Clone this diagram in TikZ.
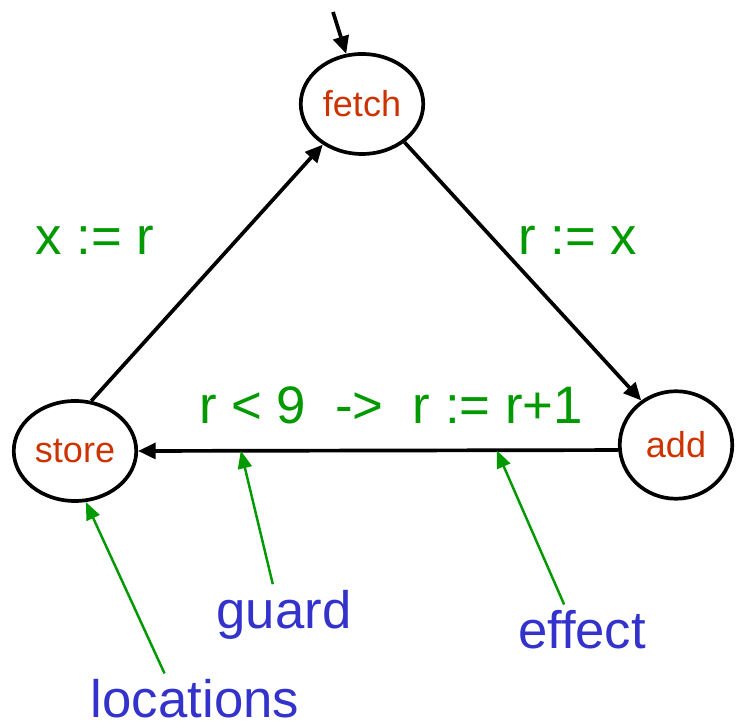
\documentclass[tikz,border=0pt]{standalone}
\usepackage{fontspec}
\setmainfont{Liberation Sans}
\usetikzlibrary{shapes.geometric,arrows.meta}

\definecolor{locred}{RGB}{204,51,0}
\definecolor{labgreen}{RGB}{0,153,0}
\definecolor{noteblue}{RGB}{51,51,204}

\begin{document}
\begin{tikzpicture}[
    loc/.style={ellipse, draw, line width=2.1pt, inner sep=0pt, minimum width=2.45cm, minimum height=2cm,
                text=locred, font=\fontsize{20.5}{24}\selectfont},
    edge/.style={line width=2.1pt, -{Triangle[length=10pt,width=9pt]}},
    lab/.style={text=labgreen, font=\fontsize{30}{36}\selectfont},
    note/.style={text=noteblue, font=\fontsize{30}{36}\selectfont},
    pointer/.style={draw=labgreen, line width=1.4pt, -{Triangle[length=10pt,width=8pt]}, labgreen}]
    \useasboundingbox (0,0) rectangle (14.72,14.5);

    % locations
    \node[loc] (fetch) at (7.24,12.42) {fetch};
    \node[loc] (store) at (1.5,5.48) {store};
    \node[loc, minimum width=2.25cm, minimum height=2.15cm] (add) at (13.52,5.6) {add};
    \coordinate (init) at (6.66,14.26);

    % transitions
    \draw[edge] (init) -- (fetch);
    \draw[edge] (store.72) -- (fetch.226);
    \draw[edge] (fetch.318) -- (add.128);
    \draw[edge] (add.185) -- coordinate[pos=0.253] (eff) coordinate[pos=0.786] (grd) (store.east);

    % labels
    \node[lab] (upd1) at (1.9,9.7) {x := r};
    \node[lab] (upd2) at (11.56,9.7) {r := x};
    \node[lab] (guardeff) at (7.82,6.4) {r < 9 \ -> \ r := r+1};

    % notes
    \node[note] (guard) at (5.68,2.2) {guard};
    \node[note] (effect) at (11.64,1.9) {effect};
    \node[note] (locs) at (3.9,0.52) {locations};

    \draw[pointer] (guard.110) -- (grd);
    \draw[pointer] (effect.125) -- (eff);
    \draw[pointer] (locs.140) -- (store.282);
\end{tikzpicture}
\end{document}
